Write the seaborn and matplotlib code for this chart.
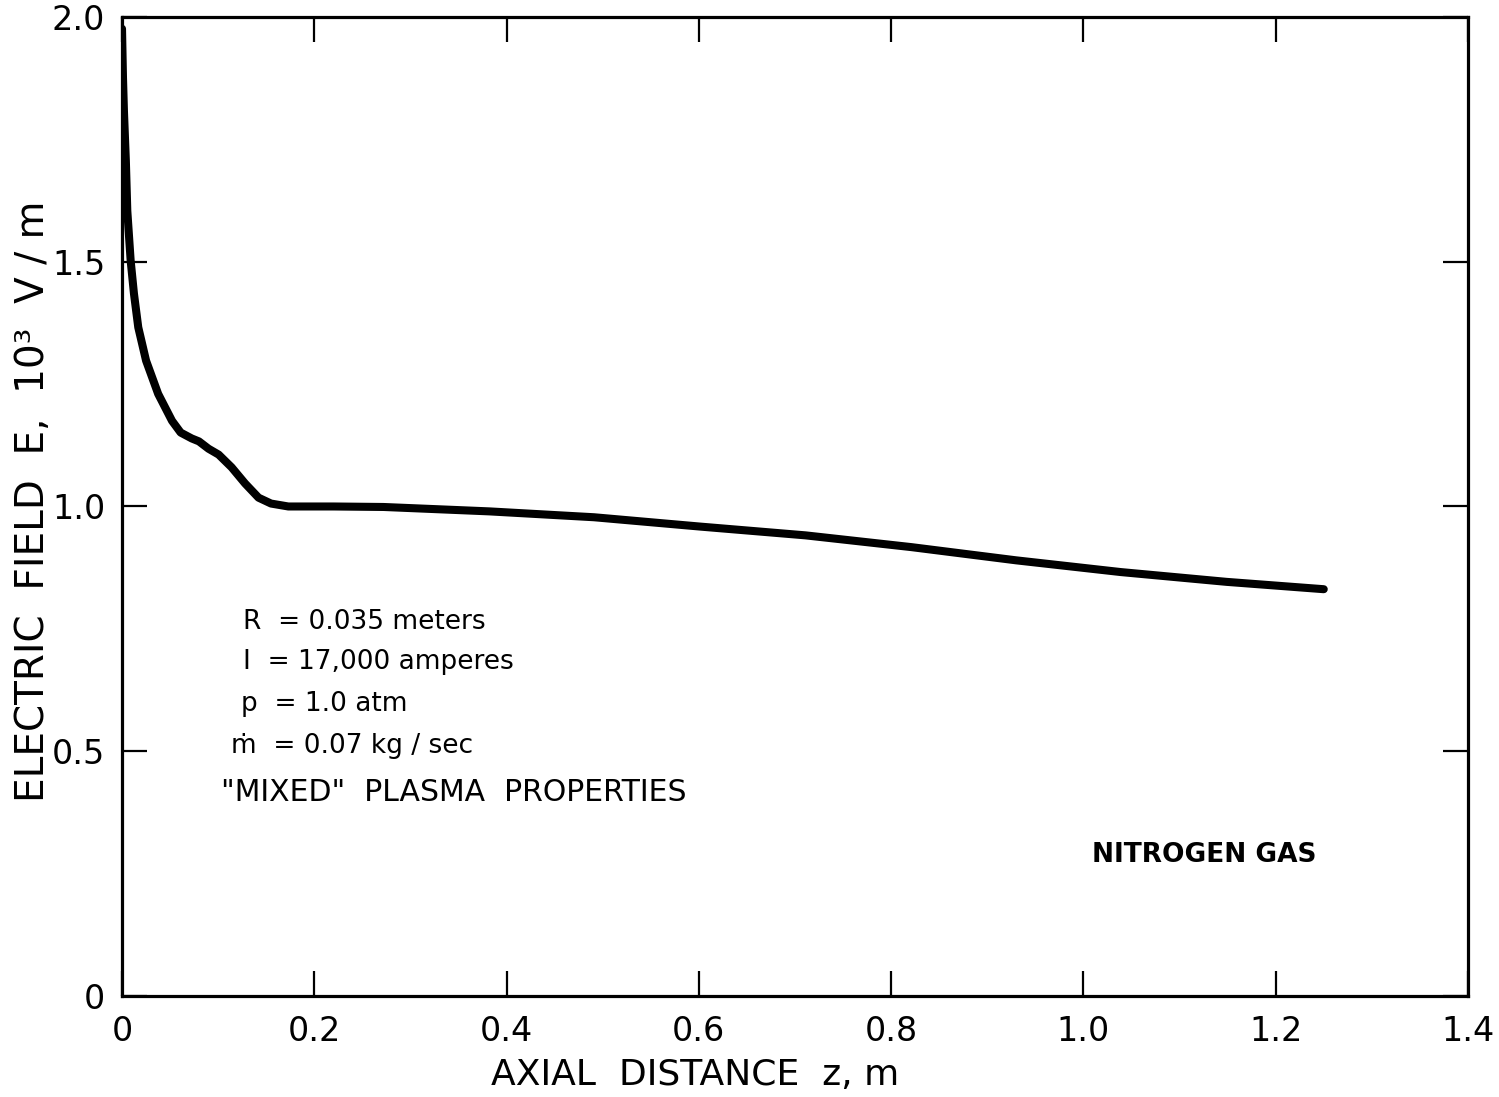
import matplotlib
matplotlib.use("Agg")
import matplotlib.pyplot as plt
import seaborn as sns
import pandas as pd

# Data
z_m = [0.0, 0.001, 0.002, 0.004, 0.0055, 0.009, 0.0124, 0.0169, 0.025, 0.0376,
       0.052, 0.061, 0.0725, 0.080, 0.090, 0.1005, 0.114, 0.128, 0.142, 0.155,
       0.173, 0.220, 0.272, 0.382, 0.491, 0.601, 0.711, 0.821, 0.930, 1.039,
       1.149, 1.250]
E_kVm = [1.976, 1.877, 1.808, 1.706, 1.604, 1.502, 1.435, 1.366, 1.298, 1.230,
         1.175, 1.151, 1.139, 1.133, 1.118, 1.106, 1.080, 1.047, 1.018, 1.006,
         1.000, 1.000, 0.999, 0.990, 0.978, 0.959, 0.941, 0.917, 0.890, 0.866,
         0.846, 0.831]

x_ticks = [0, 0.2, 0.4, 0.6, 0.8, 1.0, 1.2, 1.4]
x_tick_labels = ["0", "0.2", "0.4", "0.6", "0.8", "1.0", "1.2", "1.4"]
y_ticks = [0, 0.5, 1.0, 1.5, 2.0]
y_tick_labels = ["0", "0.5", "1.0", "1.5", "2.0"]

param_lines = ["R  = 0.035 meters", "I  = 17,000 amperes", "p  = 1.0 atm",
               "ṁ  = 0.07 kg / sec", '"MIXED"  PLASMA  PROPERTIES']
param_sizes = [19, 19, 19, 19, 21.5]

df = pd.DataFrame({"z": z_m, "E": E_kVm})

sns.set_style("white")
plt.rcParams["font.family"] = ["DejaVu Sans"]

fig = plt.figure(figsize=(14.99, 10.97), dpi=100)
ax = fig.add_axes([0.0814, 0.0921, 0.8979, 0.8924])

sns.lineplot(data=df, x="z", y="E", ax=ax, color="black", linewidth=5.8,
             solid_capstyle="round", solid_joinstyle="round")

ax.set_xlim(0, 1.4)
ax.set_ylim(0, 2.0)
ax.set_xticks(x_ticks)
ax.set_xticklabels(x_tick_labels)
ax.set_yticks(y_ticks)
ax.set_yticklabels(y_tick_labels)

for s in ax.spines.values():
    s.set_visible(True)
    s.set_color("black")
    s.set_linewidth(2.3)

ax.tick_params(axis="both", which="major", direction="in", length=18, width=1.6,
               top=True, right=True, bottom=True, left=True,
               labelsize=24, colors="black", labelcolor="black")
ax.tick_params(axis="x", pad=14)
ax.tick_params(axis="y", pad=12)

ax.set_xlabel("AXIAL  DISTANCE  z, m", fontsize=26, color="black")
ax.set_ylabel("ELECTRIC  FIELD  E,  10³  V / m", fontsize=28, color="black")
ax.xaxis.set_label_coords(0.426, -0.081)
ax.yaxis.set_label_coords(-0.066, 0.505)
ax.xaxis.label.set_va("center")
ax.yaxis.label.set_va("center")

xs = [0.126, 0.126, 0.124, 0.113, 0.103]
ys = [0.763, 0.682, 0.596, 0.510, 0.416]
for x, y, t, fs in zip(xs, ys, param_lines, param_sizes):
    ax.text(x, y, t, fontsize=fs, ha="left", va="center", color="black")

ax.text(1.009, 0.288, "NITROGEN GAS", fontsize=19, fontweight="bold",
        ha="left", va="center", color="black")

fig.savefig("out.png", dpi=100, facecolor="white")
